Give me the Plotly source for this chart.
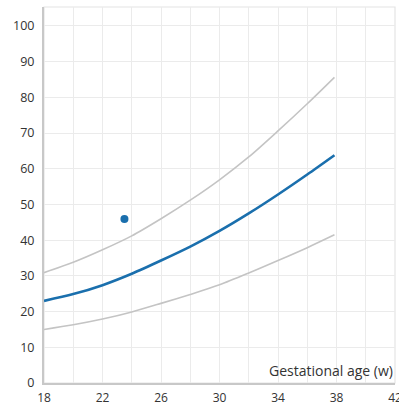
import plotly.graph_objects as go

weeks = [18, 20, 22, 24, 26, 28, 30, 32, 34, 36, 37.86]
median = [23.0, 24.9, 27.4, 30.6, 34.3, 38.2, 42.6, 47.5, 52.8, 58.4, 63.8]
upper = [30.9, 33.8, 37.3, 41.2, 46.0, 51.2, 56.9, 63.3, 70.6, 78.2, 85.6]
lower = [15.0, 16.3, 17.9, 19.9, 22.3, 24.8, 27.5, 30.8, 34.3, 37.9, 41.5]
point_x = [23.5]
point_y = [45.9]
x_ticks = [18, 22, 26, 30, 34, 38, 42]
y_ticks = [0, 10, 20, 30, 40, 50, 60, 70, 80, 90, 100]

grey = "#c4c4c4"
blue = "#1a6fad"
font = "Open Sans"

fig = go.Figure()
fig.add_trace(go.Scatter(x=weeks, y=upper, mode="lines", line=dict(color=grey, width=1.6, shape="spline", smoothing=0.8), hoverinfo="skip"))
fig.add_trace(go.Scatter(x=weeks, y=lower, mode="lines", line=dict(color=grey, width=1.6, shape="spline", smoothing=0.8), hoverinfo="skip"))
fig.add_trace(go.Scatter(x=weeks, y=median, mode="lines", line=dict(color=blue, width=2.6, shape="spline", smoothing=0.8)))
fig.add_trace(go.Scatter(x=point_x, y=point_y, mode="markers", marker=dict(color=blue, size=8)))

fig.update_layout(
    width=399, height=407,
    margin=dict(l=44, r=4, t=7, b=24, autoexpand=False),
    paper_bgcolor="white", plot_bgcolor="white",
    showlegend=False,
    font=dict(family=font, size=12, color="#333333"),
    shapes=[dict(type="rect", xref="paper", yref="paper", x0=0, y0=0, x1=1, y1=1,
                 line=dict(color="#e4e4e4", width=1.2), layer="below")],
    annotations=[dict(text="Gestational age (w)", xref="paper", yref="paper", x=1, y=0,
                      xanchor="right", yanchor="bottom", yshift=1, showarrow=False,
                      font=dict(family=font, size=14, color="#333333"))],
)
fig.update_xaxes(
    range=[18, 42], tickvals=x_ticks, ticktext=[str(v) for v in x_ticks],
    showgrid=True, gridcolor="#ebebeb", gridwidth=1,
    minor=dict(dtick=2, tick0=18, showgrid=True, gridcolor="#ebebeb", gridwidth=1),
    showline=True, linecolor="#c8c8c8", linewidth=2,
    ticks="outside", ticklen=3, tickcolor="rgba(0,0,0,0)",
    zeroline=False, fixedrange=True, automargin=False,
    ticklabeloverflow="allow",
)
fig.update_yaxes(
    range=[0, 105.3], tickvals=y_ticks, ticktext=[str(v) for v in y_ticks],
    showgrid=True, gridcolor="#ebebeb", gridwidth=1,
    showline=True, linecolor="#c8c8c8", linewidth=2,
    ticks="outside", ticklen=5, tickcolor="rgba(0,0,0,0)",
    zeroline=False, fixedrange=True, automargin=False,
    tickfont=dict(size=12.5),
)
fig.write_html("out.html", config={"displayModeBar": False},
               post_script="document.body.style.margin='0';document.body.style.padding='0';document.body.style.overflow='hidden';")
